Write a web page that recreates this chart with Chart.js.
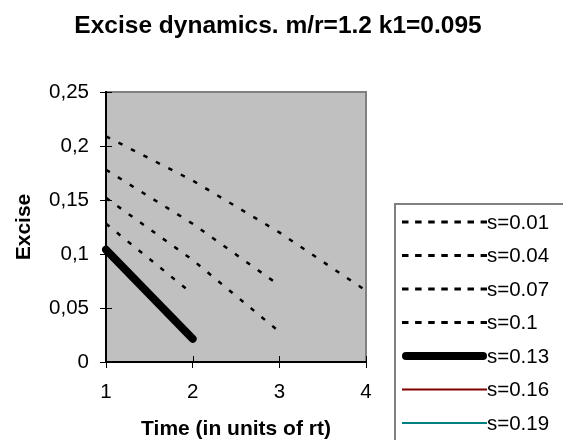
<!DOCTYPE html>
<html>
<head>
<meta charset="utf-8">
<script src="https://cdn.jsdelivr.net/npm/chart.js@4/dist/chart.umd.min.js"></script>
<style>
  html, body { margin: 0; padding: 0; background: #fff; }
  #wrap { position: relative; width: 563px; height: 440px; }
</style>
</head>
<body>
<div id="wrap"><canvas id="c"></canvas></div>
<script>
// Excise dynamics, values
const times = ["1", "2", "3", "4"];
const seriesNames = ["s=0.01", "s=0.04", "s=0.07", "s=0.1", "s=0.13", "s=0.16", "s=0.19"];
const s001 = [0.209, 0.168, 0.12, 0.066];
const s004 = [0.178, 0.128, 0.071, null];
const s007 = [0.152, 0.0945, 0.028, null];
const s010 = [0.128, 0.063, null, null];
const s013 = [0.104, 0.0215, null, null];
const s016 = [null, null, null, null];
const s019 = [null, null, null, null];
const yTicks = [0, 0.05, 0.1, 0.15, 0.2, 0.25];

const FONT = "Arial, 'Liberation Sans', sans-serif";

function dashed(label, data) {
    return { label, data, borderColor: "#000", borderWidth: 2.5, borderDash: [4.5, 9.5], pointRadius: 0, tension: 0 };
}

const datasets = [
    dashed(seriesNames[0], s001),
    dashed(seriesNames[1], s004),
    dashed(seriesNames[2], s007),
    dashed(seriesNames[3], s010),
    { label: seriesNames[4], data: s013, borderColor: "#000", borderWidth: 8, borderCapStyle: "round", pointRadius: 0, tension: 0 },
    { label: seriesNames[5], data: s016, borderColor: "#800000", borderWidth: 2, pointRadius: 0, tension: 0 },
    { label: seriesNames[6], data: s019, borderColor: "#008080", borderWidth: 2, pointRadius: 0, tension: 0 },
];

// grey plot background, title, cross ticks and the boxed legend on the right
const excelLook = {
    id: "excelLook",
    beforeDraw(chart) {
        const { ctx, chartArea: a } = chart;
        ctx.save();
        ctx.fillStyle = "#c0c0c0";
        ctx.fillRect(a.left, a.top, a.right - a.left, a.bottom - a.top);
        ctx.strokeStyle = "#808080";
        ctx.lineWidth = 2;
        ctx.beginPath();
        ctx.moveTo(a.left, a.top);
        ctx.lineTo(a.right, a.top);
        ctx.lineTo(a.right, a.bottom);
        ctx.stroke();
        ctx.fillStyle = "#000";
        ctx.font = "bold 24.5px " + FONT;
        ctx.textAlign = "center";
        ctx.textBaseline = "alphabetic";
        ctx.fillText("Excise dynamics. m/r=1.2 k1=0.095", 278, 33);
        ctx.restore();
    },
    afterDraw(chart) {
        const { ctx, chartArea: a, scales } = chart;
        ctx.save();
        ctx.strokeStyle = "#000";
        ctx.lineWidth = 1;
        ctx.beginPath();
        scales.y.ticks.forEach((t) => {
            const y = Math.round(scales.y.getPixelForValue(t.value)) + 0.5;
            ctx.moveTo(a.left, y);
            ctx.lineTo(a.left + 6, y);
        });
        times.forEach((_, i) => {
            const x = Math.round(scales.x.getPixelForValue(i)) + 0.5;
            ctx.moveTo(x, a.bottom);
            ctx.lineTo(x, a.bottom - 6);
        });
        ctx.stroke();

        // legend
        const boxL = 395, boxT = 204;
        ctx.strokeStyle = "#808080";
        ctx.lineWidth = 2;
        ctx.strokeRect(boxL, boxT, 200, 260);
        ctx.font = "20.5px " + FONT;
        ctx.textAlign = "left";
        ctx.textBaseline = "middle";
        chart.data.datasets.forEach((ds, i) => {
            const y = 222 + i * 33.5;
            ctx.save();
            ctx.strokeStyle = ds.borderColor;
            ctx.lineCap = ds.borderCapStyle || "butt";
            const round = ds.borderCapStyle === "round";
            ctx.lineWidth = ds.borderDash ? 3 : ds.borderWidth;
            ctx.setLineDash(ds.borderDash ? [6.5, 6.6] : []);
            ctx.beginPath();
            ctx.moveTo(round ? 402 + ds.borderWidth / 2 : 402, y);
            ctx.lineTo(round ? 487 - ds.borderWidth / 2 : 487, y);
            ctx.stroke();
            ctx.restore();
            ctx.fillStyle = "#000";
            ctx.fillText(ds.label, 487, y + 1);
        });
        ctx.restore();
    },
};

new Chart(document.getElementById("c"), {
    type: "line",
    data: { labels: times, datasets },
    options: {
        responsive: true,
        maintainAspectRatio: false,
        animation: false,
        layout: { padding: { left: 0, top: 92, right: 197, bottom: 0 } },
        plugins: { legend: { display: false }, tooltip: { enabled: false }, title: { display: false } },
        scales: {
            x: {
                offset: false,
                afterFit: (s) => { s.height = 78; },
                grid: { drawOnChartArea: false, drawTicks: true, tickLength: 6, color: "#000", lineWidth: 1 },
                border: { display: true, color: "#000", width: 2 },
                ticks: { color: "#000", padding: 12, font: { family: FONT, size: 20.5 }, maxRotation: 0 },
                title: { display: true, text: "Time (in units of rt)", color: "#000", padding: 0, font: { family: FONT, size: 21, weight: "bold", lineHeight: 1 } },
            },
            y: {
                min: 0,
                max: 0.25,
                afterFit: (s) => { s.width = 106; },
                afterBuildTicks: (s) => { s.ticks = yTicks.map((v) => ({ value: v })); },
                grid: { drawOnChartArea: false, drawTicks: true, tickLength: 6, color: "#000", lineWidth: 1 },
                border: { display: true, color: "#000", width: 2 },
                ticks: {
                    color: "#000",
                    padding: 11,
                    font: { family: FONT, size: 20.5 },
                    callback: (v) => String(Math.round(v * 100) / 100).replace(".", ","),
                },
                title: { display: true, text: "Excise", color: "#000", padding: { top: 14, bottom: 0 }, font: { family: FONT, size: 21, weight: "bold", lineHeight: 1 } },
            },
        },
    },
    plugins: [excelLook],
});
</script>
</body>
</html>
